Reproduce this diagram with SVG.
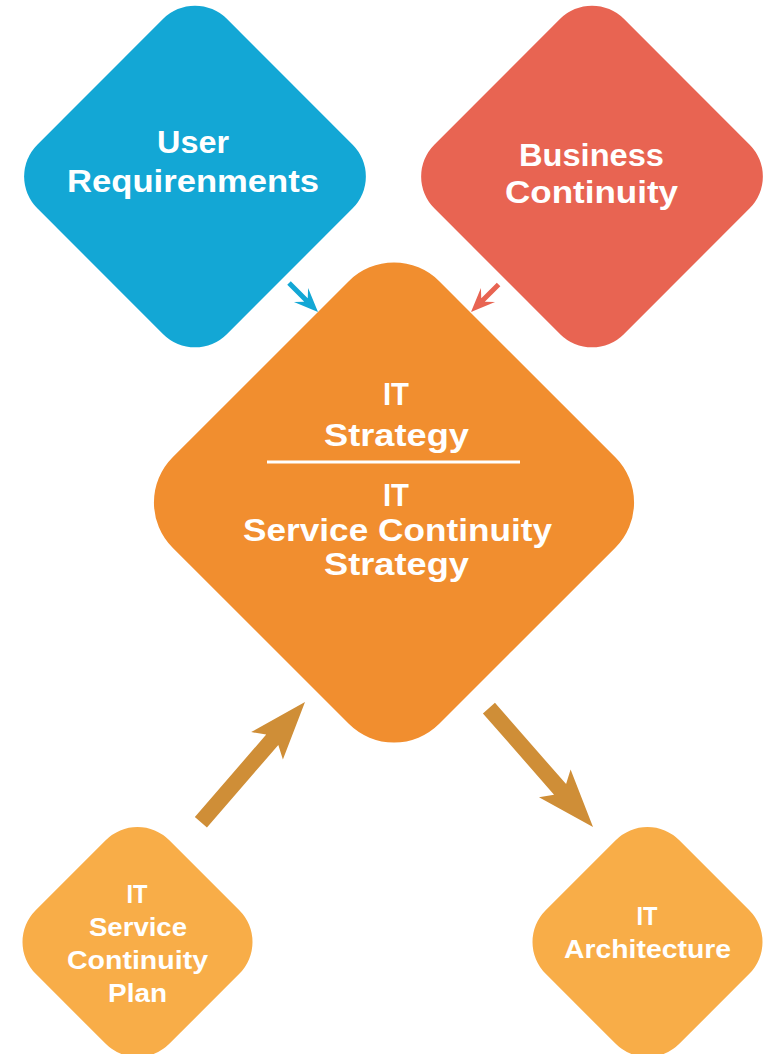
<svg xmlns="http://www.w3.org/2000/svg" width="764" height="1054" viewBox="0 0 764 1054">
<style>
  text { font-family: "Liberation Sans", Arial, sans-serif; font-weight: 700; fill: #ffffff; text-anchor: middle; }
  .big { font-size: 31px; }
  .small { font-size: 25px; }
</style>
<rect width="764" height="1054" fill="#ffffff"/>
<g id="connectors">
  <path fill="#13A7D5" transform="translate(318,312) rotate(45)" d="M0,0 L-24,-10 L-17,-2.5 L-41,-2.5 L-41,2.5 L-17,2.5 L-24,10 Z"/>
  <path fill="#E86452" transform="translate(471,312) rotate(135)" d="M0,0 L-24,-10 L-17,-2.5 L-39,-2.5 L-39,2.5 L-17,2.5 L-24,10 Z"/>
  <path fill="#CF8E37" transform="translate(305,702) rotate(-49.1)" d="M0,0 L-58,-21 L-50,-8 L-159,-8 L-159,8 L-50,8 L-58,21 Z"/>
  <path fill="#CF8E37" transform="translate(593,827) rotate(48.8)" d="M0,0 L-58,-21 L-50,-8 L-158,-8 L-158,8 L-50,8 L-58,21 Z"/>
</g>
<g id="user-requirements">
  <rect x="-134" y="-134" width="268" height="268" rx="45" fill="#13A7D5" transform="translate(195,176.5) rotate(45)"/>
  <text class="big" x="193" y="153" textLength="72" lengthAdjust="spacingAndGlyphs">User</text>
  <text class="big" x="193" y="192" textLength="252" lengthAdjust="spacingAndGlyphs">Requirenments</text>
</g>
<g id="business-continuity">
  <rect x="-134" y="-134" width="268" height="268" rx="45" fill="#E86452" transform="translate(592,176.5) rotate(45)"/>
  <text class="big" x="591.5" y="166" textLength="145" lengthAdjust="spacingAndGlyphs">Business</text>
  <text class="big" x="591.5" y="203" textLength="173" lengthAdjust="spacingAndGlyphs">Continuity</text>
</g>
<g id="it-strategy">
  <rect x="-188.5" y="-188.5" width="377" height="377" rx="64" fill="#F18E2F" transform="translate(394,502.5) rotate(45)"/>
  <text class="big" x="396" y="405" textLength="26" lengthAdjust="spacingAndGlyphs">IT</text>
  <text class="big" x="396.5" y="446" textLength="145" lengthAdjust="spacingAndGlyphs">Strategy</text>
  <line x1="267" y1="462" x2="520" y2="462" stroke="#ffffff" stroke-width="3"/>
  <text class="big" x="396" y="506" textLength="26" lengthAdjust="spacingAndGlyphs">IT</text>
  <text class="big" x="397.5" y="541" textLength="309" lengthAdjust="spacingAndGlyphs">Service Continuity</text>
  <text class="big" x="396.5" y="575" textLength="145" lengthAdjust="spacingAndGlyphs">Strategy</text>
</g>
<g id="it-service-continuity-plan">
  <rect x="-94.5" y="-94.5" width="189" height="189" rx="45" fill="#F8AD48" transform="translate(137.5,942) rotate(45)"/>
  <text class="small" x="137" y="903" textLength="21" lengthAdjust="spacingAndGlyphs">IT</text>
  <text class="small" x="138" y="936" textLength="98" lengthAdjust="spacingAndGlyphs">Service</text>
  <text class="small" x="137.5" y="969" textLength="141" lengthAdjust="spacingAndGlyphs">Continuity</text>
  <text class="small" x="137.5" y="1002" textLength="59" lengthAdjust="spacingAndGlyphs">Plan</text>
</g>
<g id="it-architecture">
  <rect x="-94.5" y="-94.5" width="189" height="189" rx="45" fill="#F8AD48" transform="translate(647.5,942) rotate(45)"/>
  <text class="small" x="647" y="925" textLength="21" lengthAdjust="spacingAndGlyphs">IT</text>
  <text class="small" x="647.5" y="958" textLength="167" lengthAdjust="spacingAndGlyphs">Architecture</text>
</g>
</svg>
